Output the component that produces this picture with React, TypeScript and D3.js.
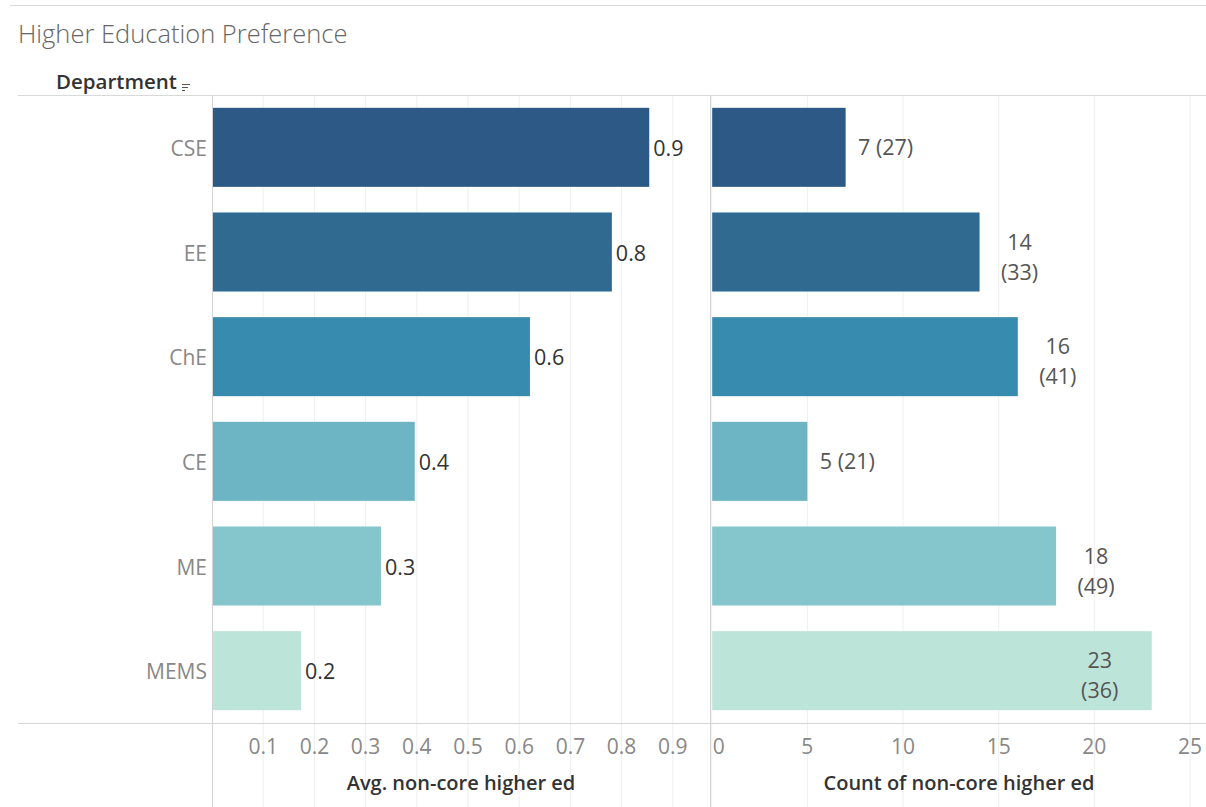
import React from "react";
import * as d3 from "d3";

const categories = ["CSE", "EE", "ChE", "CE", "ME", "MEMS"];
const avgValues = [0.854, 0.781, 0.621, 0.396, 0.33, 0.174];
const counts = [7, 14, 16, 5, 18, 23];
const totals = [27, 33, 41, 21, 49, 36];
const barColors = ["#2c5985", "#306a91", "#378bae", "#6db5c4", "#85c5cc", "#bce4d9"];
const avgTicks = [0.1, 0.2, 0.3, 0.4, 0.5, 0.6, 0.7, 0.8, 0.9];
const countTicks = [0, 5, 10, 15, 20, 25];

const W = 1206;
const H = 807;
const FONT = "'Open Sans', Lato, sans-serif";

export default function App() {
  const y = d3
    .scaleBand<string>()
    .domain(categories)
    .range([95, 723])
    .paddingInner(0.245)
    .paddingOuter(0.1225);
  const xL = d3.scaleLinear().domain([0, 1]).range([212, 724]);
  const xR = d3.scaleLinear().domain([0, 25]).range([711.7, 1190]);
  const fmt = d3.format(".1f");
  const bw = y.bandwidth();

  return (
    <svg
      width={W}
      height={H}
      style={{ position: "absolute", left: 0, top: 0, background: "#fff" }}
      fontFamily={FONT}
    >
      <line x1={10} x2={W} y1={5.5} y2={5.5} stroke="#d9d9d9" />
      <text x={18} y={43} fontSize={25.5} fill="#666" fontWeight={300}>
        Higher Education Preference
      </text>
      <text x={56} y={89} fontSize={20.5} fill="#333" fontWeight={600}>
        Department
      </text>
      <g stroke="#555" strokeWidth={1}>
        <line x1={182} x2={190} y1={84.5} y2={84.5} />
        <line x1={182} x2={188} y1={87.5} y2={87.5} />
        <line x1={182} x2={185} y1={90.5} y2={90.5} />
      </g>

      {avgTicks.map((t) => (
        <line key={"gl" + t} x1={xL(t)} x2={xL(t)} y1={95} y2={807} stroke="#efefef" />
      ))}
      {countTicks.map((t) => (
        <line key={"gr" + t} x1={xR(t)} x2={xR(t)} y1={95} y2={807} stroke="#efefef" />
      ))}

      <line x1={18} x2={W} y1={95.5} y2={95.5} stroke="#d9d9d9" />
      <line x1={18} x2={W} y1={723.5} y2={723.5} stroke="#d4d4d4" />
      <line x1={212.5} x2={212.5} y1={95} y2={807} stroke="#d4d4d4" />
      <line x1={710.5} x2={710.5} y1={95} y2={807} stroke="#d4d4d4" />

      {categories.map((c, i) => {
        const yy = y(c) as number;
        const cy = yy + bw / 2;
        return (
          <g key={"l" + c}>
            <text x={207} y={cy + 1} dy="0.36em" textAnchor="end" fontSize={21} fill="#888">
              {c}
            </text>
            <rect x={xL(0) + 1} y={yy} width={xL(avgValues[i]) - xL(0) - 1} height={bw} fill={barColors[i]} />
            <text x={xL(avgValues[i]) + 4} y={cy + 1} dy="0.36em" fontSize={21.5} fill="#333">
              {fmt(avgValues[i])}
            </text>
          </g>
        );
      })}

      {categories.map((c, i) => {
        const yy = y(c) as number;
        const cy = yy + bw / 2;
        const end = xR(counts[i]);
        const inside = end + 80 > W;
        const twoLine = counts[i] >= 10;
        const cx = inside ? end - 52 : end + 40;
        return (
          <g key={"r" + c}>
            <rect x={xR(0) + 0.5} y={yy} width={end - xR(0) - 0.5} height={bw} fill={barColors[i]} />
            {twoLine ? (
              <text textAnchor="middle" fontSize={21.5} fill="#555">
                <tspan x={cx} y={cy - 10} dy="0.36em">
                  {counts[i]}
                </tspan>
                <tspan x={cx} y={cy + 20} dy="0.36em">
                  {"(" + totals[i] + ")"}
                </tspan>
              </text>
            ) : (
              <text x={cx} y={cy} dy="0.36em" textAnchor="middle" fontSize={21.5} fill="#555">
                {counts[i] + " (" + totals[i] + ")"}
              </text>
            )}
          </g>
        );
      })}

      {avgTicks.map((t) => (
        <text key={"tl" + t} x={xL(t)} y={746} dy="0.36em" textAnchor="middle" fontSize={21} fill="#888">
          {fmt(t)}
        </text>
      ))}
      {countTicks.map((t) => (
        <text
          key={"tr" + t}
          x={t === 0 ? xR(t) + 1 : xR(t)}
          y={746}
          dy="0.36em"
          textAnchor={t === 0 ? "start" : "middle"}
          fontSize={21}
          fill="#888"
        >
          {t}
        </text>
      ))}
      <text x={461} y={783} dy="0.36em" textAnchor="middle" fontSize={20} fontWeight={600} fill="#333">
        Avg. non-core higher ed
      </text>
      <text x={959} y={783} dy="0.36em" textAnchor="middle" fontSize={20} fontWeight={600} fill="#333">
        Count of non-core higher ed
      </text>
    </svg>
  );
}
